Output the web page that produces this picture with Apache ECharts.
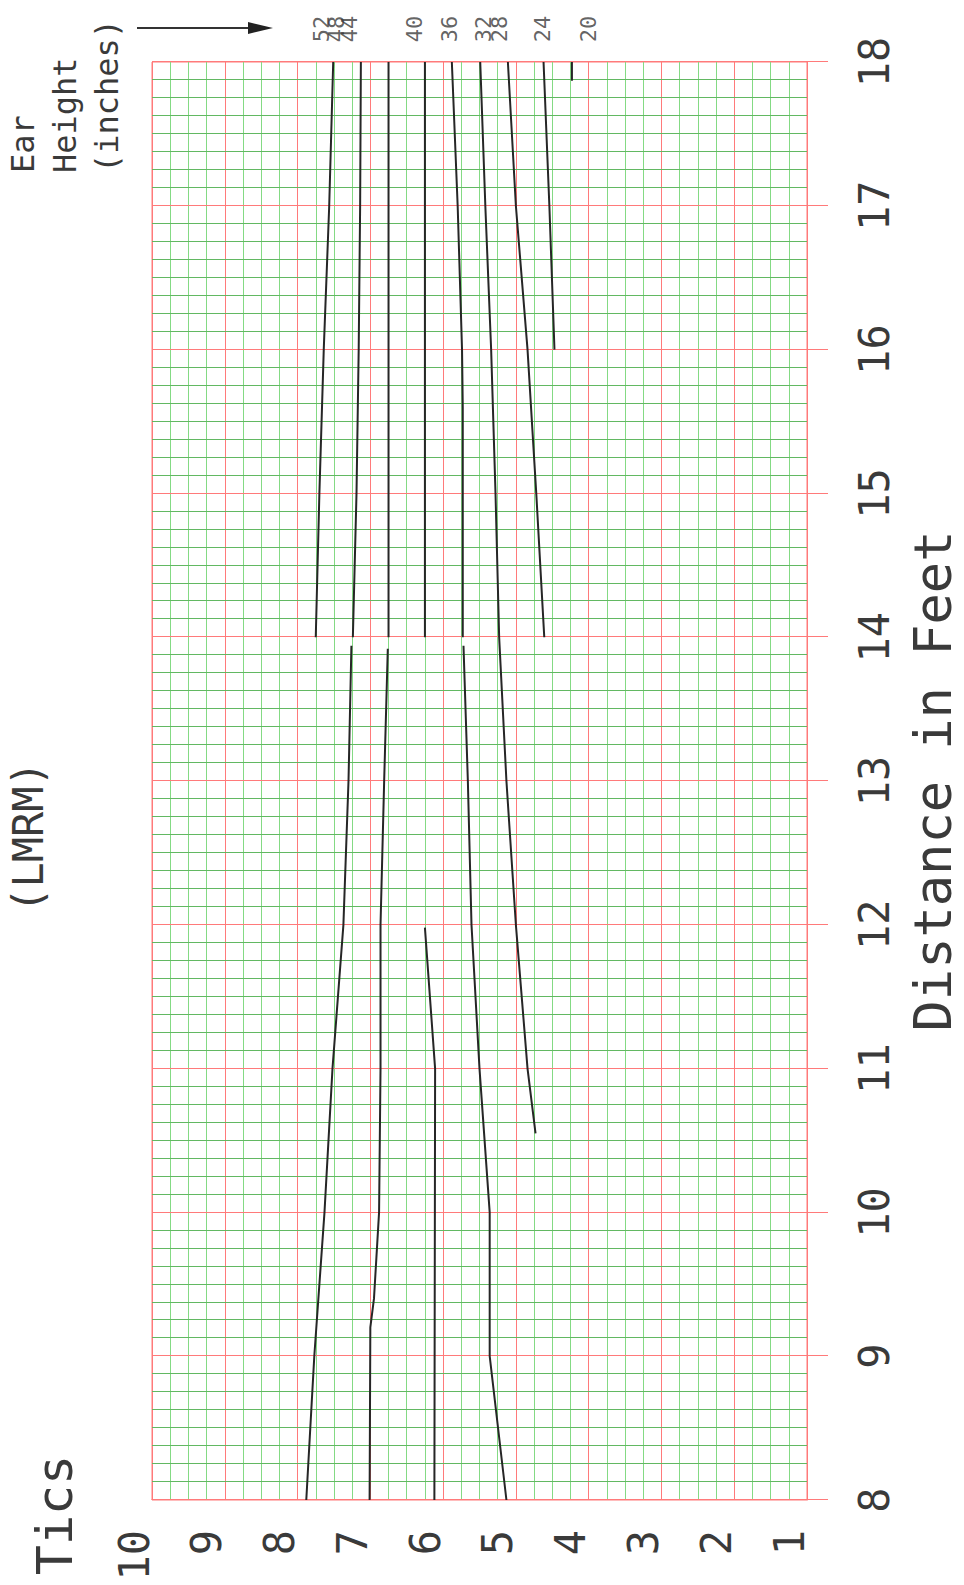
<!DOCTYPE html>
<html>
<head>
<meta charset="utf-8">
<title>Tics vs Distance (LMRM)</title>
<script src="https://cdn.jsdelivr.net/npm/echarts@6/dist/echarts.min.js"></script>
<style>
  html, body { margin: 0; padding: 0; background: #fff; }
  body { width: 964px; height: 1585px; overflow: hidden; position: relative; }
  /* chart is laid out landscape and turned a quarter turn counter-clockwise */
  #chart {
    position: absolute; left: 0; top: 0;
    width: 1585px; height: 964px;
    transform-origin: 0 0;
    transform: translate(0, 1585px) rotate(-90deg);
  }
</style>
</head>
<body>
<div id="chart"></div>
<script>
// each curve: [distance in feet, tics]; null = gap in the line
const eh52 = [[14, 7.75], [15, 7.70], [16, 7.64], [17, 7.565], [18, 7.51]]
const eh48 = [[8, 7.88], [9, 7.77], [10, 7.63], [11, 7.52], [12, 7.37], [13, 7.30], [13.94, 7.26],
  null, [14, 7.24], [15, 7.19], [16, 7.16], [17, 7.14], [18, 7.13]]
const eh44 = [[8, 7.01], [9.2, 7.0], [9.4, 6.95], [10, 6.88], [11, 6.86], [12, 6.86], [13, 6.81], [13.92, 6.76],
  null, [14, 6.75], [18, 6.75]]
const eh40 = [[8, 6.12], [11, 6.11], [11.98, 6.25], null, [14, 6.25], [18, 6.25]]
const eh36 = [[8, 5.13], [9, 5.36], [10, 5.36], [11, 5.50], [12, 5.61], [13, 5.66], [13.94, 5.72],
  null, [14, 5.73], [15.6, 5.73], [16, 5.74], [17, 5.80], [18, 5.88]]
const eh32 = [[10.55, 4.73], [11, 4.84], [12, 5.00], [13, 5.13], [14, 5.23], [15, 5.28], [16, 5.34], [17, 5.42], [18, 5.49]]
const eh28 = [[14, 4.61], [15, 4.72], [16, 4.84], [17, 5.00], [18, 5.11]]
const eh24 = [[16, 4.47], [17, 4.54], [18, 4.62]]
const eh20 = [[17.87, 4.23], [18, 4.23]]

const earHeights = [52, 48, 44, 40, 36, 32, 28, 24, 20]
const earCurves = [eh52, eh48, eh44, eh40, eh36, eh32, eh28, eh24, eh20]
// where each ear height label sits on the tics scale (beyond the 18 ft edge)
const labelTics = [7.67, 7.47, 7.29, 6.40, 5.91, 5.44, 5.23, 4.64, 4.00]
const labelDistance = 18.23

const FONT = 'DejaVu Sans Mono'
const TEXT = '#3a3a3a'
const RED = '#ff7a7a'

const chart = echarts.init(document.getElementById('chart'), null, { renderer: 'svg' })

const lineSeries = earCurves.map((curve, i) => ({
  name: String(earHeights[i]),
  type: 'line',
  data: curve.map(p => (p ? p : ['-', '-'])),
  symbol: 'none',
  connectNulls: false,
  silent: true,
  lineStyle: { color: '#262626', width: 2 }
}))

const labelSeries = {
  type: 'scatter',
  silent: true,
  clip: false,
  symbolSize: 1,
  itemStyle: { color: 'rgba(0,0,0,0)' },
  labelLayout: { hideOverlap: false },
  data: earHeights.map((h, i) => ({ name: String(h), value: [labelDistance, labelTics[i]] })),
  label: {
    show: true,
    position: 'inside',
    formatter: '{b}',
    fontFamily: FONT,
    fontSize: 22,
    color: TEXT
  }
}

chart.setOption({
  animation: false,
  backgroundColor: '#fff',
  grid: {
    left: 85, top: 152, width: 1438, height: 660,
    show: true, borderColor: RED, borderWidth: 1
  },
  xAxis: {
    type: 'value',
    min: 8, max: 18, interval: 1,
    name: 'Distance in Feet',
    nameLocation: 'middle',
    nameGap: 100,
    nameTextStyle: { fontFamily: FONT, fontSize: 52, color: TEXT },
    axisLine: { show: true, lineStyle: { color: RED } },
    axisTick: { show: true, length: 21, lineStyle: { color: RED } },
    axisLabel: { margin: 46, fontFamily: FONT, fontSize: 42, color: TEXT },
    splitLine: { show: true, lineStyle: { color: RED, width: 1 } },
    minorTick: { show: false, splitNumber: 8 },
    minorSplitLine: { show: true, lineStyle: { color: '#62b862', width: 1 } }
  },
  yAxis: {
    type: 'value',
    min: 1, max: 10, interval: 1,
    name: 'Tics',
    nameLocation: 'end',
    nameGap: 72,
    nameTextStyle: { fontFamily: FONT, fontSize: 50, color: TEXT, align: 'center', padding: [0, 30, 0, 0] },
    axisLine: { show: true, lineStyle: { color: RED } },
    axisTick: { show: false },
    axisLabel: {
      margin: 30, fontFamily: FONT, fontSize: 42, color: TEXT,
      verticalAlign: 'bottom', lineHeight: 36
    },
    splitLine: { show: true, lineStyle: { color: RED, width: 1 } },
    minorTick: { show: false, splitNumber: 4 },
    minorSplitLine: { show: true, lineStyle: { color: '#84da84', width: 1 } }
  },
  graphic: {
    elements: [
      {
        type: 'text', x: 748, y: 28,
        style: { text: '(LMRM)', fontFamily: FONT, fontSize: 42, fill: TEXT, textAlign: 'center', textVerticalAlign: 'middle' }
      },
      {
        type: 'text', x: 1412, y: 2,
        style: { text: 'Ear\nHeight\n(inches)', fontFamily: FONT, fontSize: 32, lineHeight: 42, fill: TEXT, textAlign: 'left', textVerticalAlign: 'top' }
      },
      {
        type: 'line',
        shape: { x1: 1557, y1: 137, x2: 1557, y2: 250 },
        style: { stroke: '#333', lineWidth: 2 }
      },
      {
        type: 'polygon',
        shape: { points: [[1551, 248], [1563, 248], [1557, 273]] },
        style: { fill: '#222' }
      }
    ]
  },
  series: [...lineSeries, labelSeries]
})
</script>
</body>
</html>
